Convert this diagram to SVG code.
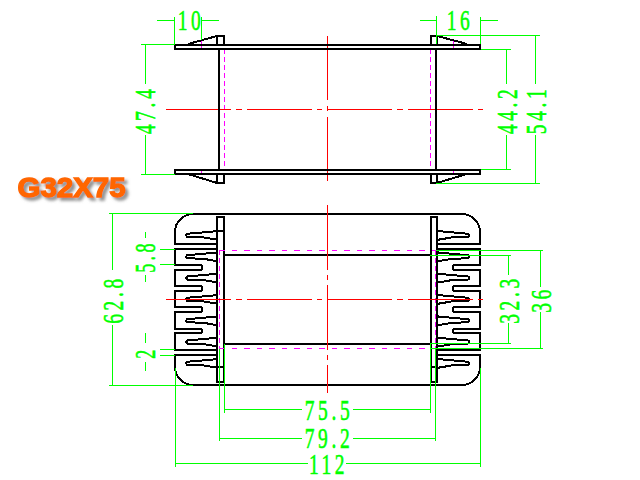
<svg xmlns="http://www.w3.org/2000/svg" xmlns:xlink="http://www.w3.org/1999/xlink" width="640" height="480" viewBox="0 0 640 480">
<style>
.k{fill:none;stroke:#000;stroke-width:2;shape-rendering:crispEdges}
.g{fill:none;stroke:#00ff00;stroke-width:1;shape-rendering:crispEdges}
.r{fill:none;stroke:#ff0000;stroke-width:1;shape-rendering:crispEdges}
.m{fill:none;stroke:#ff00ff;stroke-width:1;shape-rendering:crispEdges}
.mv{stroke-dasharray:5 3}
.mh{stroke-dasharray:5.5 7}
.t{font-family:"Liberation Serif",serif;font-size:30px;fill:#00ff00;stroke:#00ff00;stroke-width:.6;letter-spacing:5.5px;text-anchor:middle}
.logo{font-family:"Liberation Sans",Arial,sans-serif;font-weight:bold;font-size:28px;fill:#ff6600;stroke:#ff6600;stroke-width:1.4}
</style>
<defs>
<path id="pin" class="k" d="M218 -4.3L204 -3L187 -1.5Q185.5 0 187 1.5L204 2.2L218 4.6"/>
<filter id="sh" x="-10%" y="-30%" width="125%" height="170%"><feDropShadow dx="3" dy="3" stdDeviation="1.6" flood-color="#777" flood-opacity=".8"/></filter>
</defs>
<rect width="640" height="480" fill="#fff"/>

<g id="top-view">
<path class="m mv" d="M224.5 49V170M430.5 49V170"/>
<path class="m" d="M201.5 40V48.5M201.5 170V174M453.5 40V48.5M453.5 170V174"/>
<path class="r" stroke-dasharray="65 5 5.5 5" d="M166 109H488"/>
<path class="r" stroke-dasharray="64 5.5 5.5 5.5" d="M327.5 36V181"/>
<path class="k" d="M175 45H480V49H175Z"/>
<path class="k" d="M175 170H480V174H175Z"/>
<path class="k" d="M219 48V170M436 48V170"/>
<path class="k" d="M217 44V36H224V44M217 174V183H224V174"/>
<path class="k" d="M431 44V36H437V44M431 174V183H437V174"/>
<path class="k" d="M188 44L217 36M188 174L217 183M437 36L467 44M437 183L467 174"/>
</g>

<g id="bottom-view">
<path class="k" d="M217 244H175V232A18 18 0 0 1 193 214H462A18 18 0 0 1 480 232V244H437"/>
<path class="k" d="M217 355H175V367A18 18 0 0 0 193 385H462A18 18 0 0 0 480 367V355H437"/>
<path class="k" d="M217 249H175V265H200Q202 265 202 267V268Q202 270 200 270H175V286H200Q202 286 202 288V289Q202 291 200 291H175V307H200Q202 307 202 309V310Q202 312 200 312H175V329H200Q202 329 202 331V332Q202 333 200 333H175V350H217"/>
<path class="k" d="M437 249H480V265H455Q453 265 453 267V268Q453 270 455 270H480V286H455Q453 286 453 288V289Q453 291 455 291H480V307H455Q453 307 453 309V310Q453 312 455 312H480V329H455Q453 329 453 331V332Q453 333 455 333H480V350H437"/>
<rect class="k" x="217" y="217" width="7" height="165"/>
<rect class="k" x="431" y="217" width="6" height="165"/>
<path class="k" d="M224 255H431M224 344H431M217 231H224M217 367H224M431 367H437"/>
<use xlink:href="#pin" href="#pin" y="235.3"/>
<use xlink:href="#pin" href="#pin" y="256.7"/>
<use xlink:href="#pin" href="#pin" y="278"/>
<use xlink:href="#pin" href="#pin" y="299.3"/>
<use xlink:href="#pin" href="#pin" y="320.7"/>
<use xlink:href="#pin" href="#pin" y="342"/>
<use xlink:href="#pin" href="#pin" y="363.3"/>
<use xlink:href="#pin" href="#pin" transform="translate(655.3,235.3) scale(-1,1)"/>
<use xlink:href="#pin" href="#pin" transform="translate(655.3,256.7) scale(-1,1)"/>
<use xlink:href="#pin" href="#pin" transform="translate(655.3,278) scale(-1,1)"/>
<use xlink:href="#pin" href="#pin" transform="translate(655.3,299.3) scale(-1,1)"/>
<use xlink:href="#pin" href="#pin" transform="translate(655.3,320.7) scale(-1,1)"/>
<use xlink:href="#pin" href="#pin" transform="translate(655.3,342) scale(-1,1)"/>
<use xlink:href="#pin" href="#pin" transform="translate(655.3,363.3) scale(-1,1)"/>
<path class="m mh" d="M219 250.5H436M219 348.5H436"/>
<path class="m mv" d="M219.5 250V348M435.5 250V348"/>
<path class="r" stroke-dasharray="65 5 5.5 5" d="M166 299.5H488"/>
<path class="r" stroke-dasharray="65 5 5 5" d="M327.5 205V393"/>
</g>

<g id="dimensions">
<path class="g" d="M157 20.5H174.5M201.5 20.5H219M174.5 17V44M201.5 17V40"/>
<path class="g" d="M420 20.5H436.5M480.5 20.5H498M436.5 16V44M480.5 17V44"/>
<path class="g" d="M141 44.5H175M141 174.5H175M145.5 44V84M145.5 135V174"/>
<path class="g" d="M481 49.5H511M481 169.5H511M506.5 49V84M506.5 135V169"/>
<path class="g" d="M436 35.5H540M436 183.5H540M535.5 35V84M535.5 135V183"/>
<path class="g" d="M109 213.5H193M109 385.5H193M112.5 213V270M112.5 325V385"/>
<path class="g" d="M160 249.5H175M160 264.5H175M145.5 232V238M145.5 275V282"/>
<path class="g" d="M160 349.5H175M160 355.5H175M145.5 333V343M145.5 362V371"/>
<path class="g" d="M430 255.5H511M430 343.5H511M508.5 255V275M508.5 323V343"/>
<path class="g" d="M436 250.5H543M430 348.5H543M540.5 250V287M540.5 312V348"/>
<path class="g" d="M224.5 344V413M430.5 344V413M224.5 409.5H302M353 409.5H430.5"/>
<path class="g" d="M219.5 349V441M435.5 349V441M219.5 438.5H302M353 438.5H435.5"/>
<path class="g" d="M175.5 368V467M480.5 368V467M175.5 463.5H308M346 463.5H480.5"/>
<text class="t" transform="translate(191,30) scale(.65,1)">10</text>
<text class="t" transform="translate(460,30) scale(.65,1)">16</text>
<text class="t" transform="translate(155,110) rotate(-90) scale(.65,1)">47.4</text>
<text class="t" transform="translate(517,110) rotate(-90) scale(.65,1)">44.2</text>
<text class="t" transform="translate(546,110) rotate(-90) scale(.65,1)">54.1</text>
<text class="t" transform="translate(123,299.5) rotate(-90) scale(.65,1)">62.8</text>
<text class="t" transform="translate(155,256.5) rotate(-90) scale(.6,1)">5.8</text>
<text class="t" transform="translate(155,352.5) rotate(-90) scale(.6,1)">2</text>
<text class="t" transform="translate(519,299.5) rotate(-90) scale(.65,1)">32.3</text>
<text class="t" transform="translate(551,299.5) rotate(-90) scale(.65,1)">36</text>
<text class="t" transform="translate(329,420) scale(.65,1)">75.5</text>
<text class="t" transform="translate(329,448) scale(.65,1)">79.2</text>
<text class="t" transform="translate(328.5,474) scale(.65,1)">112</text>
</g>

<text class="logo" x="17.5" y="196.5" textLength="108" lengthAdjust="spacingAndGlyphs" filter="url(#sh)">G32X75</text>
</svg>
